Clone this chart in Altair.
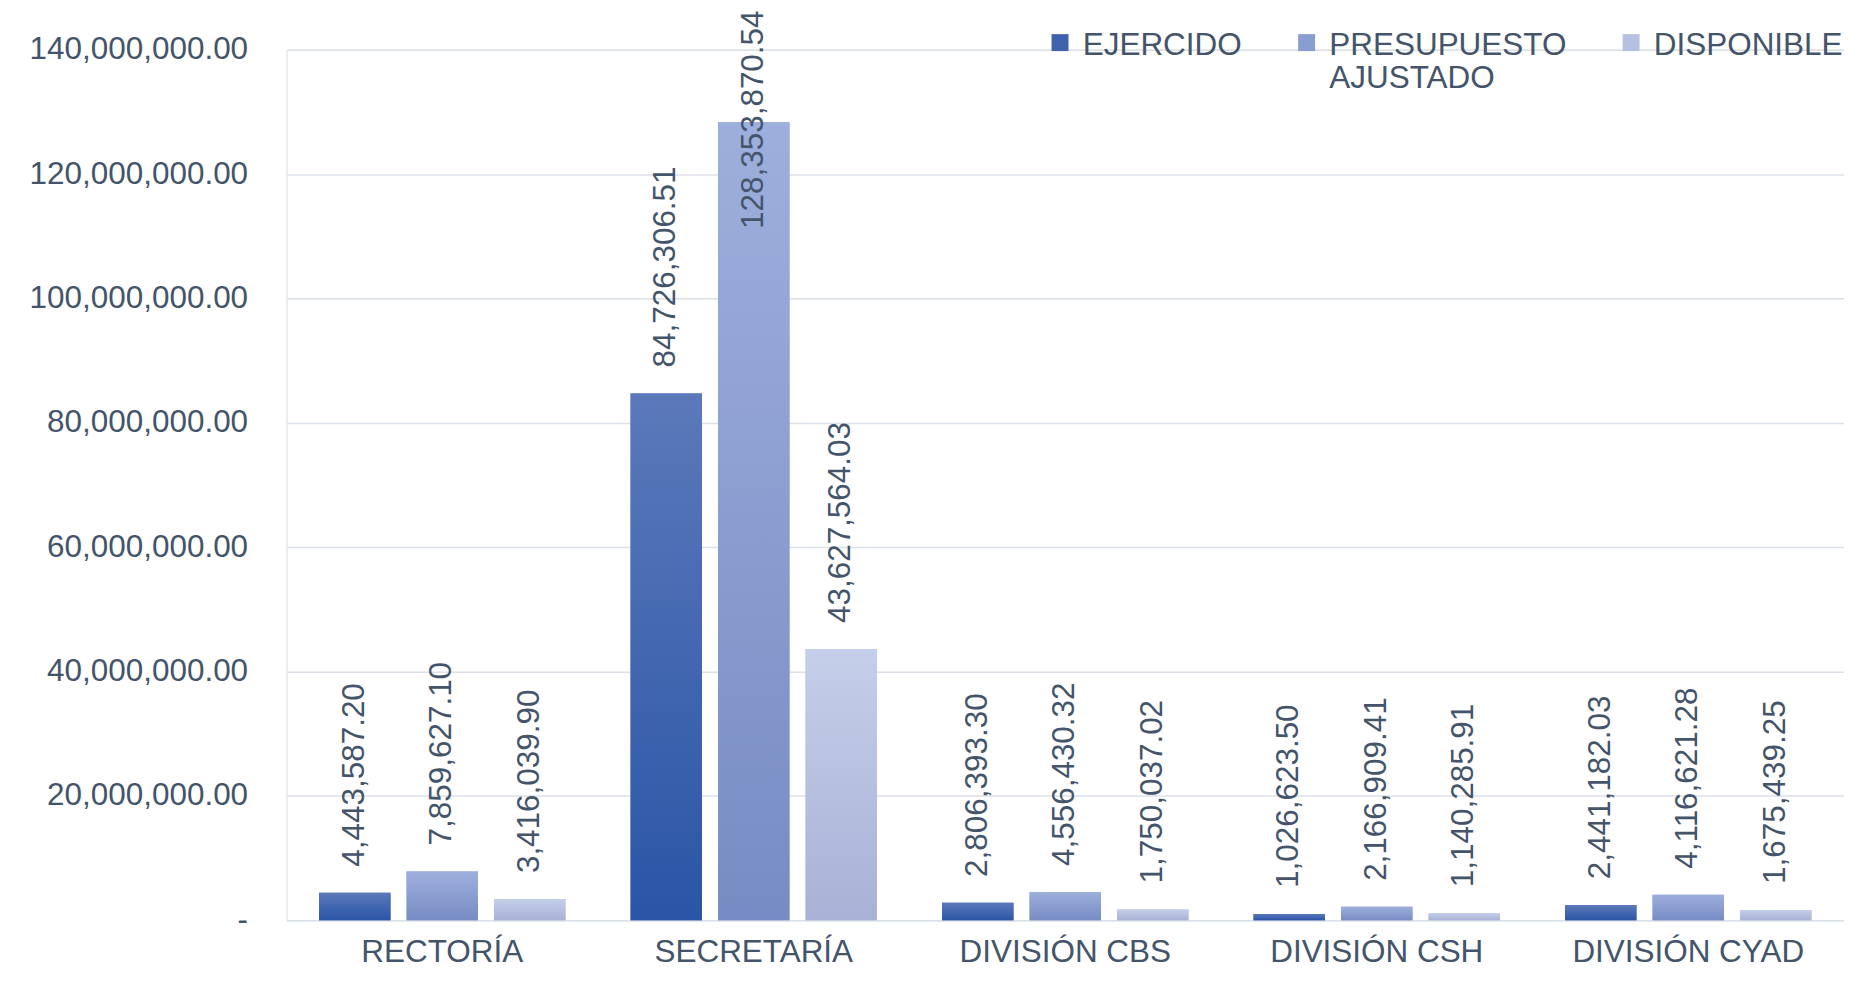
import altair as alt
import pandas as pd

categories = ["RECTORÍA", "SECRETARÍA", "DIVISIÓN CBS", "DIVISIÓN CSH", "DIVISIÓN CYAD"]
series = ["EJERCIDO", "PRESUPUESTO AJUSTADO", "DISPONIBLE"]
ejercido = [4443587.20, 84726306.51, 2806393.30, 1026623.50, 2441182.03]
presupuesto = [7859627.10, 128353870.54, 4556430.32, 2166909.41, 4116621.28]
disponible = [3416039.90, 43627564.03, 1750037.02, 1140285.91, 1675439.25]
y_ticks = [0, 20000000, 40000000, 60000000, 80000000, 100000000, 120000000, 140000000]

rows = []
for vals, s in zip([ejercido, presupuesto, disponible], series):
    for c, v in zip(categories, vals):
        rows.append({"cat": c, "serie": s, "valor": v})
df = pd.DataFrame(rows)

TXT = "#44546A"
FONT = "Liberation Sans"
FS = 31.5

flat_colors = ["#3F62AD", "#899DD1", "#B6C1E1"]
gradients = {
    "EJERCIDO": ("#5B79BA", "#2A55A6"),
    "PRESUPUESTO AJUSTADO": ("#9DAFDC", "#778CC4"),
    "DISPONIBLE": ("#C5CFEA", "#A7B2D6"),
}

# square legend key, drawn slightly lower so it sits beside the first label line
legend_square = "M-1,0.53L1,0.53L1,2.53L-1,2.53Z"

x_enc = alt.X("cat:N", sort=categories,
              scale=alt.Scale(paddingInner=0.209, paddingOuter=0.1045),
              axis=alt.Axis(title=None, labelAngle=0, labelFontSize=FS, labelFont=FONT,
                            labelColor=TXT, ticks=False, tickSize=0, domain=False,
                            labelPadding=16, grid=False, labelLimit=600))
xoff_enc = alt.XOffset("serie:N", sort=series,
                       scale=alt.Scale(paddingInner=0.184, paddingOuter=0))
y_scale = alt.Scale(domain=[0, 140000000], nice=False, zero=True)

base = alt.Chart(df)

flat = base.mark_bar().encode(
    x=x_enc,
    xOffset=xoff_enc,
    y=alt.Y("valor:Q", scale=y_scale,
            axis=alt.Axis(title=None, values=y_ticks, labelFontSize=FS, labelFont=FONT,
                          labelColor=TXT, ticks=False, tickSize=0, domain=False,
                          labelPadding=39, gridColor="#DCE1E8", gridWidth=1.5,
                          labelLimit=600,
                          labelExpr="datum.value == 0 ? '-\u00a0\u00a0' : format(datum.value, ',.2f')")),
    color=alt.Color("serie:N", sort=series,
                    scale=alt.Scale(domain=series, range=flat_colors),
                    legend=alt.Legend(title=None, orient="none", direction="horizontal",
                                      legendX=759, legendY=-36, padding=0,
                                      symbolType=legend_square, symbolSize=289, symbolStrokeWidth=0,
                                      labelFontSize=FS, labelFont=FONT, labelColor=TXT,
                                      labelOffset=7, columnPadding=49, labelLimit=600,
                                      labelBaseline="top",
                                      labelExpr="datum.label == 'PRESUPUESTO AJUSTADO' ? ['PRESUPUESTO', 'AJUSTADO'] : [datum.label, '']")),
)

layers = [flat]
for s in series:
    top, bot = gradients[s]
    layers.append(
        base.transform_filter(alt.datum.serie == s).mark_bar(
            color=alt.Gradient(gradient="linear", x1=0, x2=0, y1=0, y2=1,
                               stops=[alt.GradientStop(color=top, offset=0),
                                      alt.GradientStop(color=bot, offset=1)])
        ).encode(x=alt.X("cat:N", sort=categories), xOffset=alt.XOffset("serie:N", sort=series),
                 y=alt.Y("valor:Q", scale=y_scale))
    )

labels = base.transform_calculate(
    pos="min(datum.valor, 107000000)"
).mark_text(angle=270, align="left", baseline="middle", dx=26, fontSize=FS,
            font=FONT, color=TXT).encode(
    x=alt.X("cat:N", sort=categories),
    xOffset=alt.XOffset("serie:N", sort=series),
    y=alt.Y("pos:Q", scale=y_scale),
    text=alt.Text("valor:Q", format=",.2f"),
)
layers.append(labels)

chart = alt.layer(*layers).properties(
    width=1560, height=872,
    autosize=alt.AutoSizeParams(type="none"),
    padding={"left": 279, "top": 41, "right": 0, "bottom": 48},
).configure_view(stroke=None).configure(background="white")

chart.save("out.html", embed_options={"renderer": "svg", "actions": False})
